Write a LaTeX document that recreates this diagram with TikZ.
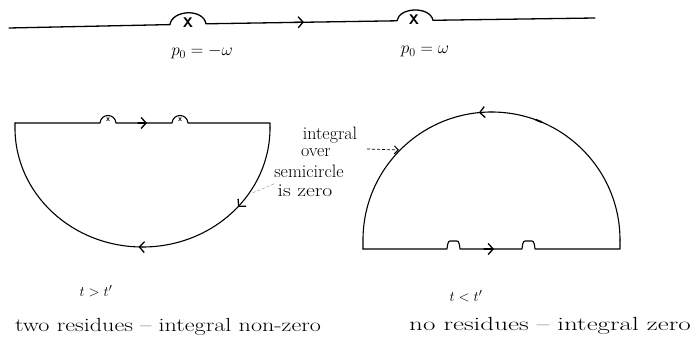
\documentclass[tikz,border=0pt]{standalone}
\usetikzlibrary{arrows.meta,decorations.markings}
\tikzset{
  contour/.style={line width=1.1pt, black, line cap=round, line join=round},
  barbtip/.style={-{Straight Barb[length=5pt,width=11pt,line width=1.3pt]}},
  handtxt/.style={font=\fontsize{18}{20}\selectfont, inner sep=0pt},
  desctxt/.style={font=\fontsize{19}{22}\selectfont, inner sep=0pt},
  labtxt/.style={font=\fontsize{15}{18}\selectfont, inner sep=0pt},
  poletxt/.style={font=\fontsize{14}{14}\selectfont\sffamily\bfseries, inner sep=0pt},
  smallpole/.style={font=\fontsize{8}{8}\selectfont\sffamily\bfseries, inner sep=0pt},
  pointer/.style={densely dashed, line width=0.7pt},
  arcarrow/.style={postaction={decorate}, decoration={markings,
      mark=at position #1 with {\arrow{Straight Barb[length=5pt,width=11pt,line width=1.3pt]}}}},
  arctick/.style={postaction={decorate}, decoration={markings,
      mark=at position #1 with {\draw[line width=1.8pt] (-3,0) -- (3,0);}}}
}
\begin{document}
\begin{tikzpicture}[x=1pt,y=-1pt]
\useasboundingbox (0,0) rectangle (696,344);

% ---------- top: real axis with indentations ----------
\draw[contour, line width=1.3pt]
  (9,28) -- (170,24.6)
  .. controls (172,10) and (203,8) .. (206,23.8)
  -- (397,20.8)
  .. controls (399,7) and (430,6) .. (433,20.3)
  -- (595,18);
\draw[contour, barbtip] (290,22.4) -- (304,22.1);
\node[poletxt] (poleA) at (188,23) {X};
\node[poletxt] (poleB) at (414,20) {X};
\node[handtxt, anchor=base] (labA) at (202,56) {$p_0 = -\omega$};
\node[handtxt, anchor=base] (labB) at (425,54) {$p_0 = \omega$};

% ---------- left: closed in lower half plane ----------
\draw[contour]
  (15,123) -- (100,123)
  .. controls (101,113) and (115,113) .. (116,123)
  -- (172,123)
  .. controls (173,113) and (187,113) .. (188,123)
  -- (270,123) -- (270,128);
\draw[contour, barbtip] (138,123) -- (147,123);
\node[smallpole] (sA) at (108,119.5) {x};
\node[smallpole] (sB) at (180,119.5) {x};
\draw[contour, arcarrow=0.45] (270,128)
  arc[start angle=0, end angle=90, x radius=127.5, y radius=119];
\draw[contour, arcarrow=0.02] (142.5,247)
  arc[start angle=90, end angle=180, x radius=127.5, y radius=119]
  -- (15,123);

% ---------- right: closed in upper half plane ----------
\draw[contour]
  (363,249) -- (447,249)
  .. controls (448,240) and (449,241) .. (452,241)
  -- (455,241) .. controls (458,241) and (459,240) .. (460,249)
  -- (522,249)
  .. controls (523,240) and (524,241) .. (527,241)
  -- (530,241) .. controls (533,241) and (534,240) .. (535,249)
  -- (620,249) -- (620,240);
\draw[contour, barbtip] (484,249) -- (494,249);
\draw[contour, arctick=0.76] (620,240)
  arc[start angle=0, end angle=-90, x radius=128.5, y radius=128];
\draw[contour, arcarrow=0.06] (491.5,112)
  arc[start angle=-90, end angle=-180, x radius=128.5, y radius=128]
  -- (363,249);

% ---------- annotation ----------
\node[handtxt, anchor=base] (t1) at (330,140) {integral};
\node[handtxt, anchor=base] (t2) at (316,157) {over};
\node[handtxt, anchor=base] (t3) at (309,178) {semicircle};
\node[handtxt, anchor=base] (t4) at (305,197) {\scalebox{1.2}[1]{is zero}};
\coordinate (ptR0) at (367,149);
\coordinate (ptR1) at (399,150);
\draw[pointer, -{Straight Barb[length=4pt,width=8pt,line width=1pt]}] (ptR0) -- (ptR1);
\coordinate (ptL0) at (274,184);
\coordinate (ptL1) at (252,193);
\draw[pointer, gray!60] (ptL0) -- (ptL1);

% ---------- captions ----------
\node[labtxt, anchor=base] (c1) at (96,297) {$t > t'$};
\node[labtxt, anchor=base] (c2) at (466,302) {$t < t'$};
\node[desctxt, anchor=base] (d1) at (168,332) {\scalebox{1.27}[1]{two residues -- integral non-zero}};
\node[desctxt, anchor=base] (d2) at (550,331) {\scalebox{1.42}[1]{no residues -- integral zero}};
\end{tikzpicture}
\end{document}
